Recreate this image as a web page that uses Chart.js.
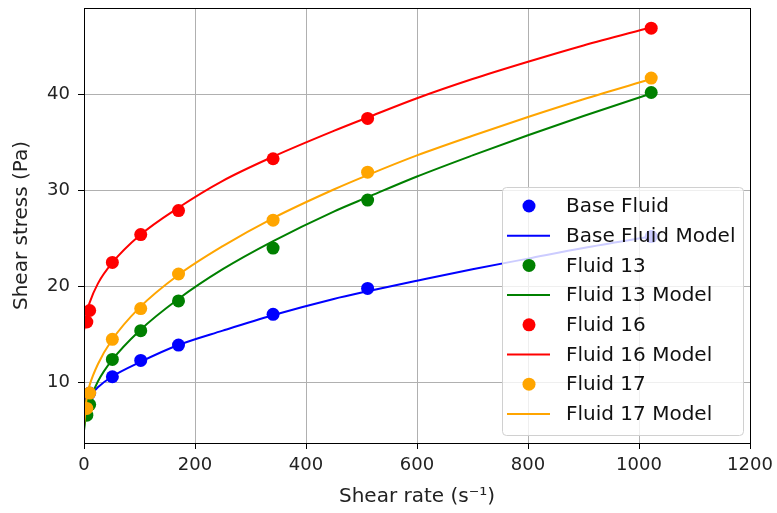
<!DOCTYPE html>
<html>
<head>
<meta charset="utf-8">
<script src="https://cdn.jsdelivr.net/npm/chart.js@4/dist/chart.umd.min.js"></script>
<style>
  html, body { margin: 0; padding: 0; background: #fff; }
  #wrap { width: 777px; height: 513px; }
</style>
</head>
<body>
<div id="wrap"><canvas id="chart" width="777" height="513"></canvas></div>
<script>
// measured shear rates (s^-1) and stresses (Pa)
const shearRate = [5.11, 10.22, 51.1, 102.2, 170.3, 340.7, 511, 1022];
const baseFluid = [8.3, 8.9, 10.6, 12.3, 13.9, 17.1, 19.8, 25.2];
const fluid13 = [6.6, 7.7, 12.4, 15.4, 18.5, 24.0, 29.0, 40.2];
const fluid16 = [16.3, 17.5, 22.5, 25.4, 27.9, 33.3, 37.5, 46.9];
const fluid17 = [7.3, 8.9, 14.5, 17.7, 21.3, 26.9, 31.9, 41.7];

// model curves
const modelRate = [0, 5, 10, 25, 50, 100, 170, 250, 340, 450, 511, 600, 700, 800, 900, 1022];
const baseModel = [7.0, 8.0, 8.5, 9.5, 10.6, 12.1, 13.9, 15.4, 17.0, 18.7, 19.5, 20.6, 21.8, 22.9, 24.0, 25.2];
const fluid13Model = [5.0, 7.2, 8.1, 10.1, 12.3, 15.4, 18.7, 21.8, 24.7, 27.8, 29.3, 31.45, 33.65, 35.75, 37.75, 40.1];
const fluid16Model = [15.4, 17.3, 18.3, 20.3, 22.4, 25.3, 28.2, 31.0, 33.5, 36.2, 37.6, 39.6, 41.6, 43.4, 45.1, 47.0];
const fluid17Model = [5.5, 8.5, 9.7, 11.9, 14.4, 17.8, 21.2, 24.2, 27.1, 30.1, 31.6, 33.65, 35.7, 37.65, 39.5, 41.6];

const xTicks = [0, 200, 400, 600, 800, 1000, 1200];
const yTicks = [10, 20, 30, 40];

const FONT = 'DejaVu Sans';

function pts(xs, ys) {
    return xs.map((x, i) => ({ x: x, y: ys[i] }));
}

function pointSet(label, color, ys) {
    return {
        label: label,
        data: pts(shearRate, ys),
        showLine: false,
        pointRadius: 6.5,
        pointHoverRadius: 6.5,
        pointBackgroundColor: color,
        pointBorderColor: color,
        pointBorderWidth: 0,
        borderColor: color,
        backgroundColor: color
    };
}

function modelSet(label, color, ys) {
    return {
        label: label,
        data: pts(modelRate, ys),
        showLine: true,
        pointRadius: 0,
        borderColor: color,
        backgroundColor: color,
        borderWidth: 2,
        cubicInterpolationMode: 'monotone'
    };
}

const datasets = [
    pointSet('Base Fluid', '#0000ff', baseFluid),
    modelSet('Base Fluid Model', '#0000ff', baseModel),
    pointSet('Fluid 13', '#008000', fluid13),
    modelSet('Fluid 13 Model', '#008000', fluid13Model),
    pointSet('Fluid 16', '#ff0000', fluid16),
    modelSet('Fluid 16 Model', '#ff0000', fluid16Model),
    pointSet('Fluid 17', '#ffa500', fluid17),
    modelSet('Fluid 17 Model', '#ffa500', fluid17Model)
];
// later series on top, as in the original
datasets.forEach((d, i) => { d.order = datasets.length - i; });

// full frame around the plot area
const framePlugin = {
    id: 'frame',
    afterDatasetsDraw(chart) {
        const a = chart.chartArea;
        const ctx = chart.ctx;
        ctx.save();
        ctx.strokeStyle = '#000';
        ctx.lineWidth = 1;
        ctx.strokeRect(Math.round(a.left) + 0.5, Math.round(a.top) + 0.5,
            Math.round(a.right - a.left), Math.round(a.bottom - a.top));
        ctx.restore();
    }
};

// legend box in the lower right, inside the axes
const legendPlugin = {
    id: 'boxLegend',
    afterDraw(chart) {
        const ctx = chart.ctx;
        const x0 = 502, y0 = 187, w = 241, h = 248, r = 4;
        ctx.save();
        ctx.beginPath();
        ctx.roundRect(x0 + 0.5, y0 + 0.5, w, h, r);
        ctx.fillStyle = 'rgba(255,255,255,0.8)';
        ctx.fill();
        ctx.strokeStyle = '#d0d0d0';
        ctx.lineWidth = 1;
        ctx.stroke();

        ctx.font = '20px "' + FONT + '"';
        ctx.textBaseline = 'middle';
        ctx.textAlign = 'left';
        chart.data.datasets.forEach((d, i) => {
            const y = 206 + i * 29.7;
            if (d.showLine) {
                ctx.beginPath();
                ctx.moveTo(507, y);
                ctx.lineTo(550, y);
                ctx.strokeStyle = d.borderColor;
                ctx.lineWidth = 2;
                ctx.stroke();
            } else {
                ctx.beginPath();
                ctx.arc(529, y, 6.5, 0, Math.PI * 2);
                ctx.fillStyle = d.pointBackgroundColor;
                ctx.fill();
            }
            ctx.fillStyle = '#111';
            ctx.fillText(d.label, 566, y + 1);
        });
        ctx.restore();
    }
};

new Chart(document.getElementById('chart'), {
    type: 'scatter',
    data: { datasets: datasets },
    plugins: [framePlugin, legendPlugin],
    options: {
        responsive: false,
        animation: false,
        devicePixelRatio: 1,
        layout: { padding: { left: 0, right: 27, top: 8, bottom: 0 } },
        plugins: {
            legend: { display: false },
            tooltip: { enabled: false }
        },
        scales: {
            x: {
                type: 'linear',
                min: 0,
                max: 1200,
                afterBuildTicks: (s) => { s.ticks = xTicks.map(v => ({ value: v })); },
                afterFit: (s) => { s.height = 70; s.paddingLeft = 0; s.paddingRight = 0; },
                grid: { color: '#b0b0b0', lineWidth: 1, tickColor: '#000', tickLength: 6 },
                border: { color: '#000', width: 1 },
                ticks: {
                    color: '#222', font: { family: FONT, size: 18 }, padding: 6, maxRotation: 0,
                    callback: (v) => String(v)
                },
                title: {
                    display: true,
                    text: 'Shear rate (s\u207B\u00B9)',
                    color: '#222',
                    font: { family: FONT, size: 20 },
                    padding: { top: 0, bottom: 4 }
                }
            },
            y: {
                type: 'linear',
                min: 3.7,
                max: 49.0,
                afterBuildTicks: (s) => { s.ticks = yTicks.map(v => ({ value: v })); },
                afterFit: (s) => { s.width = 84; s.paddingTop = 0; s.paddingBottom = 0; },
                grid: { color: '#b0b0b0', lineWidth: 1, tickColor: '#000', tickLength: 6 },
                border: { color: '#000', width: 1 },
                ticks: {
                    color: '#222', font: { family: FONT, size: 18 }, padding: 8,
                    callback: (v) => String(v)
                },
                title: {
                    display: true,
                    text: 'Shear stress (Pa)',
                    color: '#222',
                    font: { family: FONT, size: 20 },
                    padding: { top: 10, bottom: 0 }
                }
            }
        }
    }
});
</script>
</body>
</html>
